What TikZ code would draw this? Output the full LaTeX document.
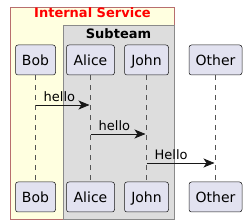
\documentclass[tikz,border=0pt]{standalone}
\usepackage{fontspec}
\setmainfont{DejaVu Sans}
\usetikzlibrary{arrows.meta}
\definecolor{partfill}{HTML}{E2E2F0}
\definecolor{partdraw}{HTML}{181818}
\definecolor{boxfill}{HTML}{FFFFE0}
\definecolor{boxdraw}{HTML}{B86E6E}
\definecolor{subfill}{HTML}{DDDDDD}
\definecolor{subdraw}{HTML}{8A8A8A}
\definecolor{lifeline}{HTML}{555555}
\begin{document}
\begin{tikzpicture}[x=1pt,y=-1pt,
  part/.style={draw=partdraw, fill=partfill, rounded corners=2.5pt, minimum height=30pt,
    inner sep=0pt, text height=10.2pt, text depth=0pt, font=\fontsize{14}{16}\selectfont, line width=0.5pt},
  life/.style={draw=lifeline, dash pattern=on 5pt off 5pt, line width=0.5pt},
  msg/.style={draw=partdraw, line width=0.75pt, -{Stealth[length=11pt,width=9pt,inset=3pt]}},
  msglabel/.style={anchor=base west, inner sep=0pt, font=\fontsize{13}{15}\selectfont},
  boxtitle/.style={anchor=base, inner sep=0pt, font=\bfseries\fontsize{13}{15}\selectfont}]
\useasboundingbox (0,0) rectangle (247,224);
\draw[fill=boxfill, draw=boxdraw, line width=0.75pt] (10.75,7.5) rectangle (174.5,219.25);
\node[boxtitle, text=red] (t1) at (92.5,17.5) {Internal Service};
\draw[fill=subfill, draw=subdraw, line width=0.75pt] (63,25.5) rectangle (174.5,219.25);
\node[boxtitle] (t2) at (118.5,38.3) {Subteam};
% participants top
\node[part, minimum width=40pt] (bob) at (35.5,60) {Bob};
\node[part, minimum width=48pt] (alice) at (90.5,60) {Alice};
\node[part, minimum width=44pt] (john) at (146.5,60) {John};
\node[part, minimum width=53pt] (other) at (215.5,60) {Other};
% participants bottom
\node[part, minimum width=40pt] (bobb) at (35.5,197) {Bob};
\node[part, minimum width=48pt] (aliceb) at (90.5,197) {Alice};
\node[part, minimum width=44pt] (johnb) at (146.5,197) {John};
\node[part, minimum width=53pt] (otherb) at (215.5,197) {Other};
% lifelines
\draw[life] (bob.south) -- (bobb.north);
\draw[life] (alice.south) -- (aliceb.north);
\draw[life] (john.south) -- (johnb.north);
\draw[life] (other.south) -- (otherb.north);
% messages
\coordinate (y1) at (0,105);
\coordinate (y2) at (0,134);
\coordinate (y3) at (0,163);
\draw[msg] (bob.south |- y1) -- ([xshift=-1pt]alice.south |- y1);
\node[msglabel] (l1) at ([xshift=8pt,yshift=3.5pt]bob.south |- y1) {hello};
\draw[msg] (alice.south |- y2) -- ([xshift=-1pt]john.south |- y2);
\node[msglabel] (l2) at ([xshift=8pt,yshift=3.5pt]alice.south |- y2) {hello};
\draw[msg] (john.south |- y3) -- ([xshift=-1pt]other.south |- y3);
\node[msglabel] (l3) at ([xshift=8pt,yshift=3.5pt]john.south |- y3) {Hello};
\end{tikzpicture}
\end{document}
